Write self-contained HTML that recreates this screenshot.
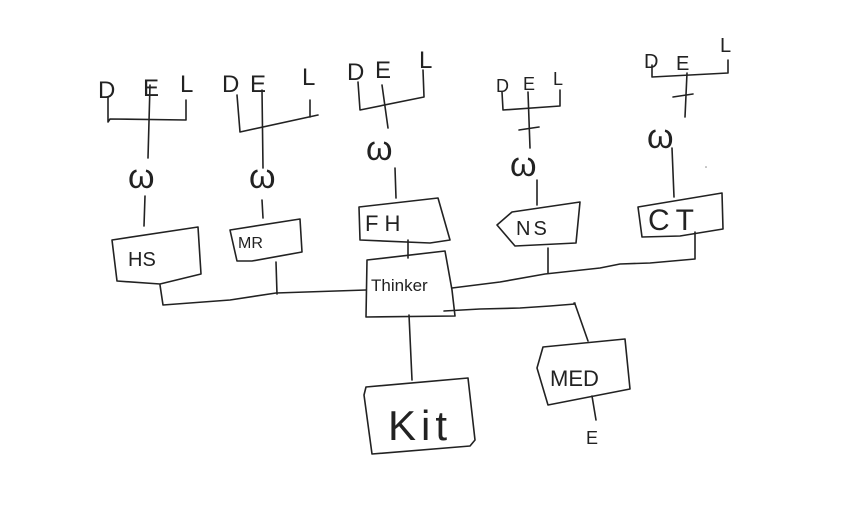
<!DOCTYPE html>
<html><head><meta charset="utf-8"><style>
html,body{margin:0;padding:0;background:#fff;}
svg{display:block}
text{font-family:"Liberation Sans",sans-serif;fill:#222;}
</style></head><body>
<svg width="854" height="512" viewBox="0 0 854 512" xmlns="http://www.w3.org/2000/svg">
<g fill="none" stroke="#222" stroke-width="1.6" stroke-linecap="round" stroke-linejoin="round">
<!-- Group HS -->
<polyline points="108,97 108,122 110,119 186,120 186,100"/>
<polyline points="150,85 148,158"/>
<polyline points="145,196 144,226"/>
<polygon points="112,240 198,227 201,274 160,284 117,281"/>
<polyline points="160,285 163,305 230,300 276,293 366,290"/>
<!-- Group MR -->
<polyline points="237,95 240,132 318,115"/>
<polyline points="310,100 310,117"/>
<polyline points="262,90 263,168"/>
<polyline points="262,200 263,218"/>
<polygon points="230,230 300,219 302,252 252,261 237,261"/>
<polyline points="276,262 277,294"/>
<!-- Group FH -->
<polyline points="358,82 360,110 424,97 423,70"/>
<polyline points="382,85 388,128"/>
<polyline points="395,168 396,198"/>
<polygon points="359,207 438,198 450,240 430,243 360,240"/>
<polyline points="408,240 408,258"/>
<!-- Thinker -->
<polygon points="367,260 445,251 452,290 455,316 366,317"/>
<polyline points="452,288 500,282 545,274 600,268 620,264 650,263 695,259 695,232"/>
<polyline points="444,311 480,309 520,308 550,306 575,304 588,341"/>
<polyline points="574,303 575,303"/>
<polyline points="409,315 412,380"/>
<polygon points="366,387 468,378 475,440 470,446 372,454 364,395"/>
<!-- MED -->
<polygon points="537,368 543,347 625,339 630,389 548,405"/>
<polyline points="592,396 596,420"/>
<!-- NS -->
<polyline points="502,92 503,110 560,106 560,90"/>
<polyline points="528,92 530,148"/>
<polyline points="519,130 539,127"/>
<polyline points="537,180 537,205"/>
<polygon points="497,225 512,212 580,202 576,243 515,246"/>
<polyline points="548,248 548,273"/>
<!-- CT -->
<polyline points="652,65 652,77 728,73 728,60"/>
<polyline points="687,73 685,117"/>
<polyline points="673,97 693,94"/>
<polyline points="672,148 674,197"/>
<polygon points="638,207 722,193 723,229 680,236 642,237"/>
</g>
<g font-size="24" fill="#222">
<text x="98" y="98">D</text><text x="143" y="96">E</text><text x="180" y="92">L</text>
<text x="222" y="92">D</text><text x="250" y="92">E</text><text x="302" y="85">L</text>
<text x="347" y="80">D</text><text x="375" y="78">E</text><text x="419" y="68">L</text>
<text x="496" y="92" font-size="18">D</text><text x="523" y="90" font-size="18">E</text><text x="553" y="85" font-size="18">L</text>
<text x="644" y="68" font-size="20">D</text><text x="676" y="70" font-size="20">E</text><text x="720" y="52" font-size="20">L</text>
</g>
<g font-size="34" fill="#222">
<text x="128" y="188">ω</text><text x="249" y="188">ω</text><text x="366" y="160">ω</text>
<text x="510" y="176">ω</text><text x="647" y="148">ω</text>
</g>
<text x="128" y="266" font-size="20">HS</text>
<text x="238" y="248" font-size="16">MR</text>
<text x="365" y="231" font-size="22" letter-spacing="6">FH</text>
<text x="516" y="235" font-size="20" letter-spacing="3">NS</text>
<text x="648" y="230" font-size="30" letter-spacing="6">CT</text>
<text x="371" y="291" font-size="17">Thinker</text>
<text x="388" y="440" font-size="42" letter-spacing="5">Kit</text>
<text x="550" y="386" font-size="22">MED</text>
<text x="586" y="444" font-size="18">E</text>
<circle cx="706" cy="167" r="0.8" fill="#888"/>
</svg>
</body></html>
